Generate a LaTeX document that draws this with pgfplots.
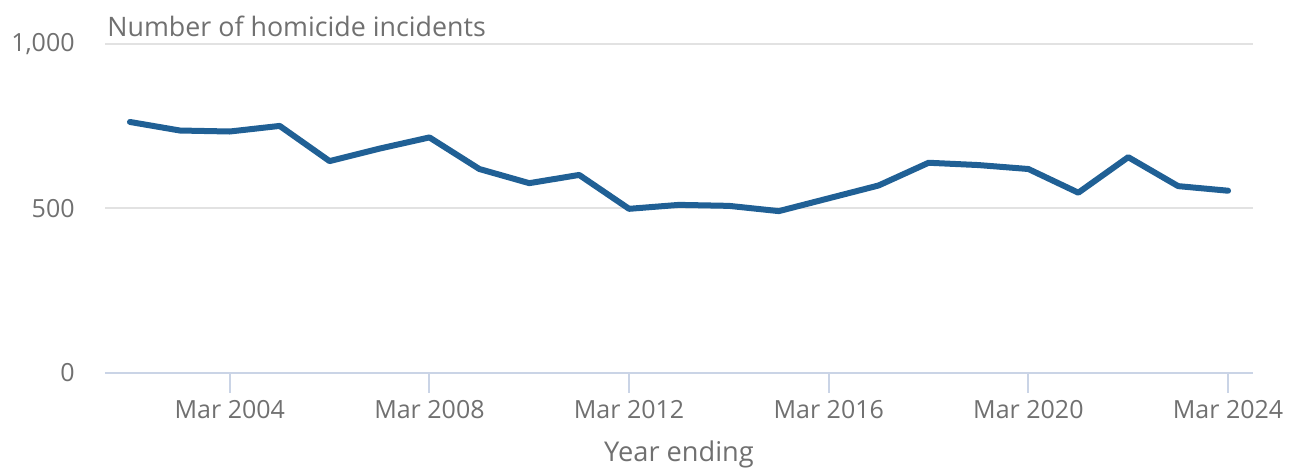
\documentclass[border=0pt]{standalone}
\usepackage{fontspec}
\setmainfont{Open Sans}
\usepackage{pgfplots}
\pgfplotsset{compat=1.18}

\definecolor{onsblue}{HTML}{206095}
\definecolor{txtgray}{HTML}{707070}
\definecolor{gridgray}{HTML}{E2E2E2}
\definecolor{axisblue}{HTML}{CAD4E6}

\begin{document}
\begin{tikzpicture}
\begin{axis}[
    scale only axis,
    width=574pt,
    height=164.5pt,
    xmin=2001.5, xmax=2024.5,
    ymin=0, ymax=1000,
    axis line style={draw=none},
    xtick={2004,2008,2012,2016,2020,2024},
    xticklabels={Mar 2004,Mar 2008,Mar 2012,Mar 2016,Mar 2020,Mar 2024},
    ytick={0,500,1000},
    ymajorgrids,
    grid style={gridgray, line width=1pt},
    tick align=outside,
    x tick style={axisblue, line width=1pt},
    y tick style={draw=none},
    xtick pos=bottom,
    ytick pos=left,
    major tick length=10pt,
    ticklabel style={font=\fontsize{12.5}{15}\selectfont, text=txtgray},
    /pgf/number format/assume math mode=true,
    /pgf/number format/1000 sep={,},
    yticklabel style={anchor=east, text width=32pt, align=right, inner sep=0pt, xshift=-5pt},
    xticklabel style={anchor=base, yshift=-12.5pt},
    clip=false,
]
\coordinate (bl) at (rel axis cs:0,0);
\coordinate (tr) at (rel axis cs:1,1);
\draw[axisblue, line width=1pt] (rel axis cs:0,0) -- (rel axis cs:1,0);
\node[anchor=base west, font=\fontsize{13.4}{16}\selectfont, text=txtgray, inner sep=0pt]
    at ([xshift=1pt,yshift=3.5pt]rel axis cs:0,1) {Number of homicide incidents};
\node[anchor=base, font=\fontsize{13.6}{16}\selectfont, text=txtgray, inner sep=0pt]
    at ([yshift=-44.5pt]rel axis cs:0.5,0) {Year ending};
\addplot[onsblue, line width=3pt, line join=round, line cap=round, mark=none] coordinates {
(2002,763) (2003,737) (2004,734) (2005,751) (2006,644) (2007,682)
(2008,716) (2009,620) (2010,577) (2011,602) (2012,499) (2013,511)
(2014,508) (2015,492) (2016,531) (2017,570) (2018,639) (2019,632)
(2020,620) (2021,548) (2022,656) (2023,568) (2024,554)
};
\end{axis}
\pgfresetboundingbox
\path[use as bounding box] ([xshift=-52.5pt,yshift=-48pt]bl) rectangle ([xshift=20pt,yshift=22pt]tr);
\end{tikzpicture}
\end{document}
